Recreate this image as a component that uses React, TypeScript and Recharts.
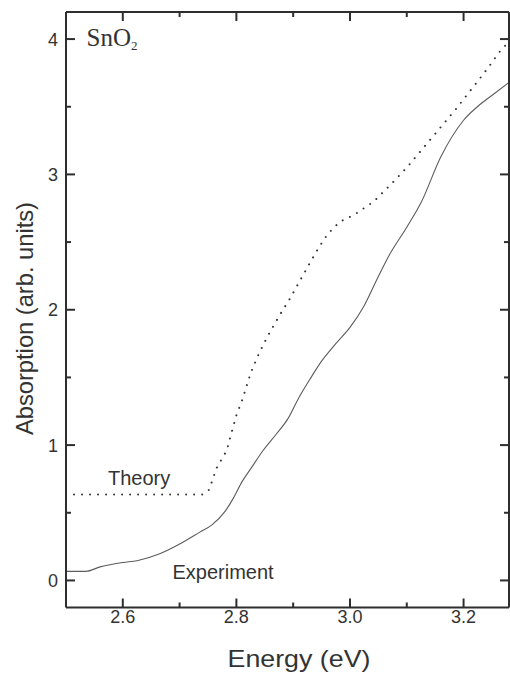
import { LineChart, Line, XAxis, YAxis } from "recharts"

// photon energy (eV) and absorption (arb. units)
const experimentEnergy = [2.5, 2.535, 2.56, 2.6, 2.625, 2.665, 2.705, 2.735, 2.757, 2.78, 2.795, 2.81, 2.826, 2.847, 2.87, 2.89, 2.91, 2.93, 2.95, 2.975, 3.0, 3.025, 3.047, 3.07, 3.1, 3.125, 3.16, 3.2, 3.23, 3.255, 3.28]
const experimentAbs = [0.067, 0.067, 0.1, 0.133, 0.146, 0.197, 0.28, 0.355, 0.41, 0.51, 0.61, 0.73, 0.83, 0.96, 1.08, 1.19, 1.35, 1.49, 1.62, 1.75, 1.87, 2.03, 2.22, 2.41, 2.61, 2.79, 3.13, 3.4, 3.52, 3.6, 3.68]

const theoryEnergy = [2.5, 2.74, 2.752, 2.765, 2.783, 2.79, 2.8, 2.81, 2.825, 2.84, 2.857, 2.879, 2.894, 2.91, 2.93, 2.945, 2.961, 2.982, 3.007, 3.042, 3.073, 3.102, 3.13, 3.158, 3.186, 3.214, 3.24, 3.266, 3.28]
const theoryAbs = [0.635, 0.635, 0.67, 0.83, 0.96, 1.07, 1.22, 1.33, 1.53, 1.68, 1.82, 1.98, 2.08, 2.2, 2.35, 2.46, 2.56, 2.65, 2.7, 2.8, 2.93, 3.06, 3.2, 3.34, 3.48, 3.63, 3.77, 3.92, 3.98]

const xTicks = [2.6, 2.7, 2.8, 2.9, 3.0, 3.1, 3.2]
const yTicks = [0, 0.5, 1, 1.5, 2, 2.5, 3, 3.5, 4]
const xDomain = [2.5, 3.28]
const yDomain = [-0.2, 4.2]

const experiment = experimentEnergy.map((x, i) => ({ x, y: experimentAbs[i] }))
const theory = theoryEnergy.map((x, i) => ({ x, y: theoryAbs[i] }))

const AXIS = "#2e2e2e"
const TEXT = "#333"
const FONT = "'Liberation Sans', Arial, sans-serif"

const isMajorX = (v: number) => Math.abs(v * 5 - Math.round(v * 5)) < 1e-6
const isMajorY = (v: number) => Math.abs(v - Math.round(v)) < 1e-6

// inward ticks (long at labelled values, short in between), drawn per tick
function tickFor(side: "bottom" | "top" | "left" | "right") {
  return (props: any) => {
    const x = Number(props.x)
    const y = Number(props.y)
    const v = Number(props.payload.value)
    const major = side === "bottom" || side === "top" ? isMajorX(v) : isMajorY(v)
    const len = major ? 9 : 5
    let d = ""
    if (side === "bottom") d = `M${x},${y}V${y - len}`
    else if (side === "top") d = `M${x},${y}V${y + len}`
    else if (side === "left") d = `M${x},${y}H${x + len}`
    else d = `M${x},${y}H${x - len}`
    return (
      <g>
        <path d={d} stroke={AXIS} strokeWidth={2} fill="none" />
        {major && side === "bottom" && (
          <text x={x} y={y + 15.5} textAnchor="middle" fontSize={18} fill={TEXT} fontFamily={FONT}>
            {v.toFixed(1)}
          </text>
        )}
        {major && side === "left" && (
          <text x={x - 8} y={y + 6.5} textAnchor="end" fontSize={18} fill={TEXT} fontFamily={FONT}>
            {Math.round(v)}
          </text>
        )}
      </g>
    )
  }
}

export default function App() {
  return (
    <div style={{ position: "absolute", left: 0, top: 0, background: "#fff" }}>
      <LineChart width={510} height={673} margin={{ top: 0, right: 0, bottom: 0, left: 0 }}>
        <XAxis
          xAxisId="b" orientation="bottom" type="number" dataKey="x"
          domain={xDomain} ticks={xTicks} interval={0} allowDataOverflow
          height={65.5} tickSize={0} tickMargin={0} tickLine={false}
          axisLine={{ stroke: AXIS, strokeWidth: 2 }}
          tick={tickFor("bottom")}
        />
        <XAxis
          xAxisId="t" orientation="top" type="number" dataKey="x"
          domain={xDomain} ticks={xTicks} interval={0} allowDataOverflow
          height={12} tickSize={0} tickMargin={0} tickLine={false}
          axisLine={{ stroke: AXIS, strokeWidth: 2 }}
          tick={tickFor("top")}
        />
        <YAxis
          yAxisId="l" orientation="left" type="number"
          domain={yDomain} ticks={yTicks} interval={0} allowDataOverflow
          width={66} tickSize={0} tickMargin={0} tickLine={false}
          axisLine={{ stroke: AXIS, strokeWidth: 2 }}
          tick={tickFor("left")}
        />
        <YAxis
          yAxisId="r" orientation="right" type="number"
          domain={yDomain} ticks={yTicks} interval={0} allowDataOverflow
          width={1} tickSize={0} tickMargin={0} tickLine={false}
          axisLine={{ stroke: AXIS, strokeWidth: 2 }}
          tick={tickFor("right")}
        />
        <Line
          data={experiment} dataKey="y" xAxisId="b" yAxisId="l"
          type="monotone" stroke="#5c5c5c" strokeWidth={1.1}
          dot={false} activeDot={false} isAnimationActive={false}
        />
        <Line
          data={theory} dataKey="y" xAxisId="t" yAxisId="r"
          type="linear" stroke="#333" strokeWidth={2}
          strokeDasharray="0.01 8" strokeLinecap="round"
          dot={false} activeDot={false} isAnimationActive={false}
        />
      </LineChart>
      <svg width={510} height={673} style={{ position: "absolute", left: 0, top: 0, pointerEvents: "none" }}>
        <text x={86.5} y={45.5} fontSize={25} fill={TEXT} fontFamily="'Liberation Serif', 'Times New Roman', serif">
          SnO<tspan fontSize={13} dy={4}>2</tspan>
        </text>
        <text x={108} y={485} fontSize={20} fill={TEXT} fontFamily={FONT}>Theory</text>
        <text x={172.5} y={579} fontSize={20} fill={TEXT} fontFamily={FONT}>Experiment</text>
        <text x={299} y={667} fontSize={24} fill={TEXT} fontFamily={FONT} textAnchor="middle"
          textLength={143} lengthAdjust="spacingAndGlyphs">Energy (eV)</text>
        <text x={33} y={318.5} fontSize={24} fill={TEXT} fontFamily={FONT} textAnchor="middle"
          textLength={233} lengthAdjust="spacingAndGlyphs" transform="rotate(-90 33 318.5)">
          Absorption (arb. units)
        </text>
      </svg>
    </div>
  )
}
